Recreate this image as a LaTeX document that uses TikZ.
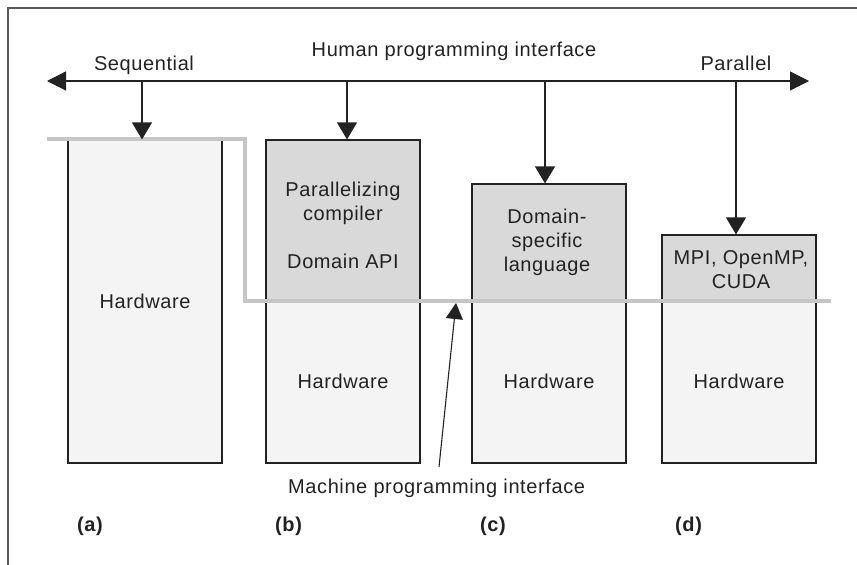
\documentclass[tikz,border=0pt]{standalone}
\usepackage{fontspec}
\setmainfont{Liberation Sans}[LetterSpace=3]
\usetikzlibrary{arrows.meta}
\definecolor{topfill}{HTML}{D9D9D9}
\definecolor{hwfill}{HTML}{F4F4F4}
\definecolor{iface}{HTML}{C6C6C6}
\definecolor{framec}{HTML}{5A5A5A}
\definecolor{ink}{HTML}{222222}
\begin{document}
\begin{tikzpicture}[x=1pt,y=-1pt,
  font=\fontsize{20}{24}\selectfont,
  box/.style={draw=ink, line width=1.2pt, inner sep=0pt, minimum width=154pt, align=center, text=ink},
  hw/.style={box, fill=hwfill},
  sw/.style={box, fill=topfill},
  txt/.style={text=ink, inner sep=0pt, anchor=base},
  lab/.style={text=ink, inner sep=0pt, anchor=base west, font=\fontsize{20}{24}\selectfont\bfseries},
  arr/.style={draw=ink, line width=1.2pt, -{Triangle[length=17pt,width=20pt]}},
  darr/.style={draw=ink, line width=1.2pt, {Triangle[length=19pt,width=19pt]}-{Triangle[length=19pt,width=19pt]}},
  marr/.style={draw=ink, line width=1.1pt, -{Triangle[length=16pt,width=17pt]}},
]
\useasboundingbox (0,0) rectangle (857,565);
\draw[framec, line width=1.5pt] (857,8) -- (8,8) -- (8,565);

% boxes
\node[hw, minimum height=323pt] (ha) at (145,301.5) {Hardware};
\node[sw, minimum height=160pt] (sb) at (343,220) {};
\node[hw, minimum height=163pt] (hb) at (343,381.5) {Hardware};
\node[sw, minimum height=116pt] (sc) at (549,242) {};
\node[hw, minimum height=163pt] (hc) at (549,381.5) {Hardware};
\node[sw, minimum height=65pt] (sd) at (739,267.5) {};
\node[hw, minimum height=163pt] (hd) at (739,381.5) {Hardware};

% texts in software boxes
\node[txt] (b1) at (343,196) {Parallelizing};
\node[txt] (b2) at (343,220) {compiler};
\node[txt] (b3) at (343,268) {Domain API};
\node[txt] (c1) at (547,223) {Domain-};
\node[txt] (c2) at (547,247) {specific};
\node[txt] (c3) at (547,271) {language};
\node[txt] (d1) at (741,264) {MPI, OpenMP,};
\node[txt] (d2) at (741,288) {CUDA};

% interface line
\draw[iface, line width=4pt] (47,139) -- (245,139) -- (245,301) -- (831,301);

% top labels
\node[txt] (seq) at (144,70) {Sequential};
\node[txt] (hpi) at (454,56) {Human programming interface};
\node[txt] (par) at (736,70) {Parallel};

% main double arrow
\coordinate (L) at (47,81);
\coordinate (R) at (809,81);
\draw[darr] (L) -- (R);

\coordinate (ta) at (142,81);
\coordinate (tb) at (347,81);
\coordinate (tc) at (545,81);
\coordinate (td) at (736,81);
\draw[arr] (ta) -- (ta |- ha.north);
\draw[arr] (tb) -- (tb |- sb.north);
\draw[arr] (tc) -- (tc |- sc.north);
\draw[arr] (td) -- (td |- sd.north);

% machine programming interface
\node[txt, anchor=base west] (mpi) at (288,493) {Machine programming interface};
\coordinate (mtail) at (439,467);
\coordinate (mtip) at (456,303);
\draw[marr] (mtail) -- (mtip);

% panel labels
\node[lab] (la) at (77,531) {(a)};
\node[lab] (lb) at (275,531) {(b)};
\node[lab] (lc) at (480,531) {(c)};
\node[lab] (ld) at (675,531) {(d)};
\end{tikzpicture}
\end{document}
